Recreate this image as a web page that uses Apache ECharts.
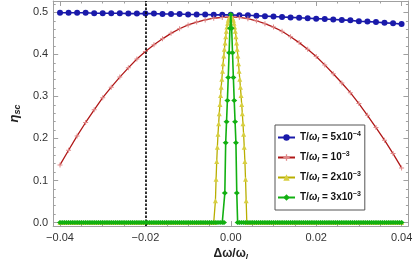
<!DOCTYPE html>
<html>
<head>
<meta charset="utf-8">
<script src="https://cdn.jsdelivr.net/npm/echarts@6/dist/echarts.min.js"></script>
<style>html,body{margin:0;padding:0;background:#fff}#c{width:415px;height:266px}</style>
</head>
<body>
<div id="c"></div>
<script>
// ---- data ----
const gridX = [-0.040,-0.038,-0.036,-0.034,-0.032,-0.030,-0.028,-0.026,-0.024,-0.022,-0.020,-0.018,-0.016,-0.014,-0.012,-0.010,-0.008,-0.006,-0.004,-0.002,0.000,
  0.002,0.004,0.006,0.008,0.010,0.012,0.014,0.016,0.018,0.020,0.022,0.024,0.026,0.028,0.030,0.032,0.034,0.036,0.038,0.040];
const blueY = [0.499,0.499,0.499,0.499,0.498,0.498,0.498,0.498,0.497,0.497,0.497,0.497,0.496,0.496,0.496,0.495,0.495,0.495,0.494,0.494,0.494,
  0.493,0.493,0.492,0.491,0.490,0.489,0.488,0.487,0.486,0.485,0.484,0.483,0.482,0.481,0.479,0.478,0.477,0.475,0.474,0.472];
const redY = [0.137,0.172,0.206,0.238,0.268,0.297,0.322,0.346,0.368,0.389,0.407,0.423,0.437,0.450,0.461,0.470,0.477,0.482,0.486,0.488,0.489,
  0.488,0.485,0.480,0.473,0.465,0.455,0.442,0.428,0.412,0.395,0.375,0.354,0.332,0.309,0.283,0.255,0.226,0.196,0.164,0.130];

const yellowX = [-0.040,-0.039,-0.038,-0.037,-0.036,-0.035,-0.034,-0.033,-0.032,-0.031,-0.030,-0.029,-0.028,-0.027,-0.026,-0.025,-0.024,-0.023,-0.022,-0.021,
  -0.020,-0.019,-0.018,-0.017,-0.016,-0.015,-0.014,-0.013,-0.012,-0.011,-0.010,-0.009,-0.008,-0.007,-0.006,-0.005,-0.004,
  -0.00375,-0.0036,-0.00345,-0.0033,-0.00315,-0.0030,-0.00285,-0.0027,-0.00255,-0.0024,-0.00225,-0.0021,-0.00195,-0.0018,-0.00165,-0.0015,-0.00135,-0.0012,-0.00105,-0.0009,-0.00075,-0.0006,-0.00045,-0.0003,-0.00015,
  0,
  0.00015,0.0003,0.00045,0.0006,0.00075,0.0009,0.00105,0.0012,0.00135,0.0015,0.00165,0.0018,0.00195,0.0021,0.00225,0.0024,0.00255,0.0027,0.00285,0.0030,0.00315,0.0033,0.00345,0.0036,0.00375,
  0.004,0.005,0.006,0.007,0.008,0.009,0.010,0.011,0.012,0.013,0.014,0.015,0.016,0.017,0.018,0.019,0.020,
  0.021,0.022,0.023,0.024,0.025,0.026,0.027,0.028,0.029,0.030,0.031,0.032,0.033,0.034,0.035,0.036,0.037,0.038,0.039,0.040];
const yellowY = [0,0,0,0,0,0,0,0,0,0,0,0,0,0,0,0,0,0,0,0,
  0,0,0,0,0,0,0,0,0,0,0,0,0,0,0,0,0,
  0,0.052,0.103,0.145,0.179,0.210,0.235,0.259,0.281,0.302,0.322,0.341,0.360,0.378,0.396,0.412,0.427,0.442,0.455,0.465,0.474,0.481,0.485,0.488,0.490,
  0.490,
  0.490,0.488,0.485,0.481,0.474,0.465,0.455,0.442,0.427,0.412,0.396,0.378,0.360,0.341,0.322,0.302,0.281,0.259,0.235,0.210,0.179,0.145,0.103,0.052,0,
  0,0,0,0,0,0,0,0,0,0,0,0,0,0,0,0,0,
  0,0,0,0,0,0,0,0,0,0,0,0,0,0,0,0,0,0,0,0];

// green (T/ω = 3x10^-3): dense zero baseline on both sides plus the narrow peak
const greenBaseLeftX = [
  -0.0400,-0.0395,-0.0390,-0.0385,-0.0380,-0.0375,-0.0370,-0.0365,-0.0360,-0.0355,
  -0.0350,-0.0345,-0.0340,-0.0335,-0.0330,-0.0325,-0.0320,-0.0315,-0.0310,-0.0305,
  -0.0300,-0.0295,-0.0290,-0.0285,-0.0280,-0.0275,-0.0270,-0.0265,-0.0260,-0.0255,
  -0.0250,-0.0245,-0.0240,-0.0235,-0.0230,-0.0225,-0.0220,-0.0215,-0.0210,-0.0205,
  -0.0200,-0.0195,-0.0190,-0.0185,-0.0180,-0.0175,-0.0170,-0.0165,-0.0160,-0.0155,
  -0.0150,-0.0145,-0.0140,-0.0135,-0.0130,-0.0125,-0.0120,-0.0115,-0.0110,-0.0105,
  -0.0100,-0.0095,-0.0090,-0.0085,-0.0080,-0.0075,-0.0070,-0.0065,-0.0060,-0.0055,
  -0.0050,-0.0045,-0.0040,-0.0035,-0.0030,-0.0025,-0.0020];
const greenBaseRightX = [
  0.0020,0.0025,0.0030,0.0035,0.0040,0.0045,0.0050,
  0.0055,0.0060,0.0065,0.0070,0.0075,0.0080,0.0085,0.0090,0.0095,0.0100,
  0.0105,0.0110,0.0115,0.0120,0.0125,0.0130,0.0135,0.0140,0.0145,0.0150,
  0.0155,0.0160,0.0165,0.0170,0.0175,0.0180,0.0185,0.0190,0.0195,0.0200,
  0.0205,0.0210,0.0215,0.0220,0.0225,0.0230,0.0235,0.0240,0.0245,0.0250,
  0.0255,0.0260,0.0265,0.0270,0.0275,0.0280,0.0285,0.0290,0.0295,0.0300,
  0.0305,0.0310,0.0315,0.0320,0.0325,0.0330,0.0335,0.0340,0.0345,0.0350,
  0.0355,0.0360,0.0365,0.0370,0.0375,0.0380,0.0385,0.0390,0.0395,0.0400];
const greenBaseY = [
  0,0,0,0,0,0,0,0,0,0, 0,0,0,0,0,0,0,0,0,0,
  0,0,0,0,0,0,0,0,0,0, 0,0,0,0,0,0,0,0,0,0,
  0,0,0,0,0,0,0,0,0,0, 0,0,0,0,0,0,0,0,0,0,
  0,0,0,0,0,0,0,0,0,0, 0,0,0,0,0,0,0];
const greenPeakX = [-0.0016,-0.0014,-0.0012,-0.0010,-0.0008,-0.0006,-0.0004,-0.0002,0,0.0002,0.0004,0.0006,0.0008,0.0010,0.0012,0.0014,0.0016];
const greenPeakY = [0,0.070,0.190,0.240,0.290,0.345,0.404,0.462,0.495,0.462,0.404,0.345,0.290,0.240,0.190,0.070,0];

const seriesNames = ['5x10^-4', '10^-3', '2x10^-3', '3x10^-3'];
const xLabelTicks = [-0.04, -0.02, 0, 0.02, 0.04];
const xMinorTicks = [-0.04,-0.035,-0.03,-0.025,-0.02,-0.015,-0.01,-0.005,0,0.005,0.01,0.015,0.02,0.025,0.03,0.035,0.04];
const yLabelTicks = [0, 0.1, 0.2, 0.3, 0.4, 0.5];
const yMinorTicks = [0,0.02,0.04,0.06,0.08,0.1,0.12,0.14,0.16,0.18,0.2,0.22,0.24,0.26,0.28,0.3,0.32,0.34,0.36,0.38,0.4,0.42,0.44,0.46,0.48,0.5,0.52];
const dashX = -0.02;

// ---- chart ----
const zip = (xs, ys) => xs.map((x, i) => [x, ys[i]]);
const greenX = greenBaseLeftX.concat(greenPeakX, greenBaseRightX);
const greenY = greenBaseY.concat(greenPeakY, greenBaseY);
const FONT = 'Liberation Sans';
const frameColor = '#a0a0a0';
const XMIN = -0.0416, XMAX = 0.0416, YMIN = -0.0085, YMAX = 0.527;

function xAx(pos, labels, ticks, len, showLine) {
  return {
    type: 'value', position: pos, min: XMIN, max: XMAX,
    splitLine: {show: false},
    axisLine: {show: showLine, onZero: false, lineStyle: {color: frameColor, width: 1}},
    axisTick: {show: true, inside: true, length: len, customValues: ticks, lineStyle: {color: frameColor}},
    axisLabel: labels ? {show: true, customValues: labels, margin: 6, color: '#333', fontFamily: FONT, fontSize: 11,
      formatter: v => (v < 0 ? '\u2212' : '') + Math.abs(v).toFixed(2)} : {show: false}
  };
}
function yAx(pos, labels, ticks, len, showLine) {
  return {
    type: 'value', position: pos, min: YMIN, max: YMAX,
    splitLine: {show: false},
    axisLine: {show: showLine, onZero: false, lineStyle: {color: frameColor, width: 1}},
    axisTick: {show: true, inside: true, length: len, customValues: ticks, lineStyle: {color: frameColor}},
    axisLabel: labels ? {show: true, customValues: labels, margin: 5, color: '#333', fontFamily: FONT, fontSize: 11,
      formatter: v => v.toFixed(1)} : {show: false}
  };
}

const xAxes = [
  xAx('bottom', xLabelTicks, xLabelTicks, 5, true),
  xAx('bottom', null, xMinorTicks, 2.5, false),
  xAx('top', null, xLabelTicks, 5, true),
  xAx('top', null, xMinorTicks, 2.5, false)
];
xAxes[0].name = '{b|\u0394\u03c9/\u03c9}{s|l}';
xAxes[0].nameLocation = 'middle';
xAxes[0].nameGap = 18;
xAxes[0].nameTextStyle = {rich: {
  b: {fontFamily: FONT, fontWeight: 'bold', fontSize: 12, color: '#222', lineHeight: 14},
  s: {fontFamily: FONT, fontWeight: 'bold', fontStyle: 'italic', fontSize: 8, color: '#222', verticalAlign: 'bottom'}
}};
const yAxes = [
  yAx('left', yLabelTicks, yLabelTicks, 5, true),
  yAx('left', null, yMinorTicks, 2.5, false),
  yAx('right', null, yLabelTicks, 5, true),
  yAx('right', null, yMinorTicks, 2.5, false)
];
yAxes[0].name = '{i|\u03b7}{s|sc}';
yAxes[0].nameLocation = 'middle';
yAxes[0].nameGap = 24;
yAxes[0].nameRotate = 90;
yAxes[0].nameTextStyle = {rich: {
  i: {fontFamily: FONT, fontWeight: 'bold', fontStyle: 'italic', fontSize: 13, color: '#222', lineHeight: 15},
  s: {fontFamily: FONT, fontWeight: 'bold', fontStyle: 'italic', fontSize: 9, color: '#222', verticalAlign: 'bottom'}
}};

const crossPath = 'path://M2,0H3V2H5V3H3V5H2V3H0V2H2Z';

const legendRich = {
  b: {fontFamily: FONT, fontWeight: 'bold', fontSize: 10, color: '#111', lineHeight: 13},
  i: {fontFamily: FONT, fontWeight: 'bold', fontStyle: 'italic', fontSize: 10, color: '#111', lineHeight: 13},
  s: {fontFamily: FONT, fontWeight: 'bold', fontStyle: 'italic', fontSize: 7, color: '#111', verticalAlign: 'bottom'},
  p: {fontFamily: FONT, fontWeight: 'bold', fontSize: 7, color: '#111', verticalAlign: 'top'}
};
function legendText(name) {
  const parts = name.split('^');
  return '{b|T/}{i|\u03c9}{s|l}{b| = ' + parts[0] + '}{p|' + parts[1].replace('-', '\u2212') + '}';
}

const option = {
  animation: false,
  backgroundColor: '#fff',
  grid: {left: 38, right: 4, top: 1, bottom: 36, containLabel: false},
  xAxis: xAxes,
  yAxis: yAxes,
  legend: {
    orient: 'vertical', left: 275, top: 125,
    backgroundColor: '#fff', borderColor: '#555', borderWidth: 1,
    padding: [6, 4, 6, 2], itemGap: 7, itemWidth: 17, itemHeight: 8,
    formatter: legendText,
    textStyle: {rich: legendRich},
    data: seriesNames
  },
  series: [
    {name: seriesNames[0], type: 'line', data: zip(gridX, blueY), symbol: 'circle', symbolSize: 6,
      lineStyle: {color: '#1a1aaa', width: 1.6}, itemStyle: {color: '#1a1aaa'}, z: 2,
      markLine: {silent: true, symbol: 'none', label: {show: false},
        lineStyle: {color: '#000', type: [2.5, 1.5], width: 1.6}, data: [{xAxis: dashX}]}},
    {name: seriesNames[1], type: 'line', data: zip(gridX, redY), symbol: crossPath, symbolSize: 5,
      lineStyle: {color: '#b01818', width: 1.3}, itemStyle: {color: '#e08888'}, z: 3},
    {name: seriesNames[2], type: 'line', data: zip(yellowX, yellowY), symbol: 'triangle', symbolSize: 5,
      lineStyle: {color: '#b8ae00', width: 1.3}, itemStyle: {color: '#d8cf40'}, z: 4},
    {name: seriesNames[3], type: 'line', data: zip(greenX, greenY), symbol: 'diamond', symbolSize: [6, 5],
      lineStyle: {color: '#12b012', width: 1.6}, itemStyle: {color: '#12b012'}, z: 5}
  ]
};
const chart = echarts.init(document.getElementById('c'), null, {renderer: 'canvas'});
chart.setOption(option);
</script>
</body>
</html>
